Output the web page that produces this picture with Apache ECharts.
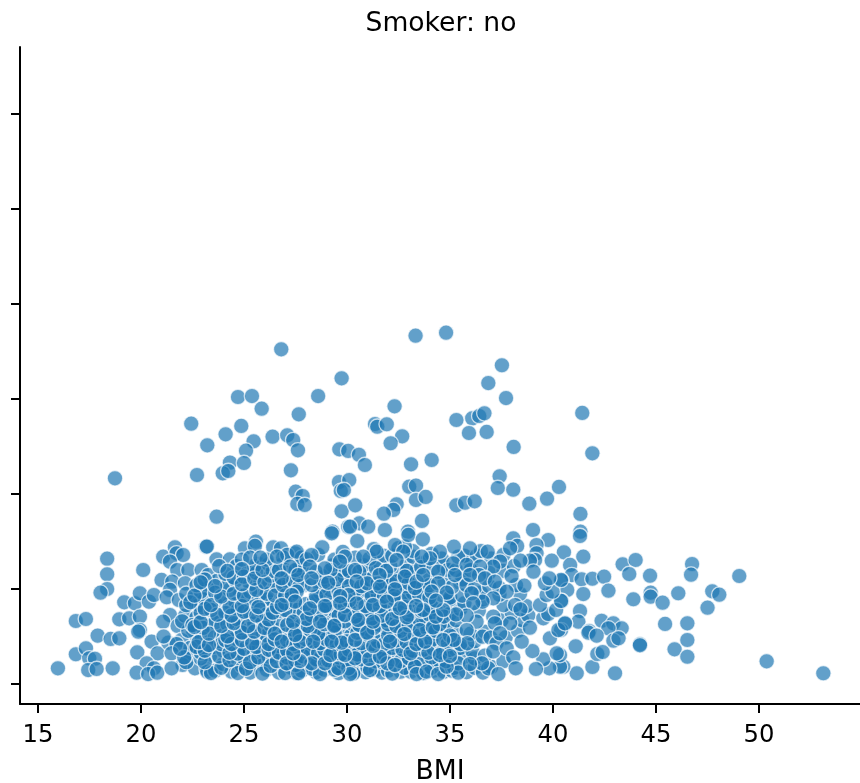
<!DOCTYPE html>
<html><head><meta charset="utf-8">
<style>html,body{margin:0;padding:0;background:#fff}#c{width:860px;height:783px}</style>
<script src="https://cdn.jsdelivr.net/npm/echarts@6/dist/echarts.min.js"></script>
</head><body><div id="c"></div>
<script>
const xTicks=[15,20,25,30,35,40,45,50];
const yTicks=[0,10000,20000,30000,40000,50000,60000];
const upperPoints=[[26.81,35230],[29.74,32180],[28.6,30310],[24.71,30210],[25.39,30310],[25.86,28980],[27.66,28390],[22.44,27400],[24.87,27160],[24.11,26280],[26.39,26030],[27.1,26180],[27.39,25680],[23.22,25120],[25.47,25550],[25.1,24560],[27.62,24600],[29.63,24700],[30.06,24530],[24.32,23300],[25,23260],[23.97,22180],[24.24,22420],[22.72,22000],[27.28,22490],[18.74,21650],[29.61,21260],[30.11,21470],[29.7,20320],[29.85,20420],[27.51,20240],[27.85,19790],[27.59,18950],[27.95,18840],[29.74,18180],[23.67,17610],[30.06,16560],[29.3,16030],[33.33,36660],[34.81,36980],[37.52,33550],[36.86,31680],[37.72,30100],[32.31,29230],[41.42,28530],[35.31,27790],[36.08,27960],[36.42,28210],[36.67,28490],[31.36,27370],[31.47,27080],[31.93,27340],[35.92,26420],[36.78,26530],[32.68,26070],[32.12,25340],[38.09,24950],[41.91,24280],[30.58,24130],[30.87,23050],[33.11,23120],[34.11,23580],[37.41,21860],[37.32,20630],[38.07,20450],[40.29,20740],[39.71,19510],[38.85,18980],[33.02,20770],[33.35,20880],[33.35,19370],[33.82,19690],[30.4,18810],[32.41,18920],[32.25,18320],[31.79,17930],[35.31,18810],[35.73,19080],[36.2,19230],[41.33,17900],[33.64,17160],[30.6,16910],[30.15,16560],[31.03,16560],[31.84,16210],[32.96,16030],[39.03,16210],[41.33,16030]];
const leftPoints=[[15.97,1650],[16.84,6630],[17.33,6840],[17.9,5090],[16.84,3130],[17.33,3760],[17.49,2700],[17.77,2660],[17.44,1470],[17.85,1580],[18.63,1650],[18.53,4740],[18.95,4810],[18.36,13190],[18.36,11550],[18.36,10000],[18.04,9610],[20.11,12000],[19.19,8600],[19.71,8490],[18.95,6810],[19.43,6910],[19.95,9550],[20.39,8670],[20.63,9370],[19.95,7090],[19.95,5680],[19.87,5510],[20.52,4460],[19.82,3330],[20.81,3230],[20.28,2180],[20.63,1650],[19.79,1190],[20.35,1050],[20.79,1190],[21.08,13400],[21.65,14390],[21.73,13760],[22.05,13580],[21.41,12880],[21.76,12000],[22.3,12000],[21,10950],[21.52,10770],[22.14,10600],[21.41,9900],[21.25,9130],[21.84,8840],[21.41,7260],[21.08,6560],[21.78,6110],[22.14,7190],[22.7,7020],[23.27,6210],[23.92,6910],[22.54,5330],[22.95,4810],[23.59,4910],[21.97,4630],[21.33,4350],[21.73,4210],[21.49,3230],[22.3,3230],[23.35,2950],[24.53,2450],[22.02,2000],[21.49,1650],[22.62,1650],[23.19,1550],[23.22,1300],[23.16,14450],[23.2,14470],[23.67,13120],[24.32,13120],[24.64,12420],[22.95,12000],[23.27,11470],[23.7,10870],[23.22,10070],[24.8,9370],[22.54,8840],[22.82,8310],[23.59,8560],[24.32,8560],[25.05,14280],[25.58,14980],[25.53,14530],[26.42,14390],[26.8,14280],[25.74,12630],[25.21,11820],[26.83,12530],[26.23,10420],[26.75,11230],[25.74,9260],[26.5,8670],[25.29,8310],[25.02,6560],[26.34,7090],[24.32,5580],[25.1,5330],[25.93,5510],[26.67,4460],[25.93,4210],[25.21,3580],[25.78,2100],[27.07,2100],[27.55,1160],[27.39,6420],[27.48,8670],[27.39,9580],[27.64,11300],[27.48,13760]];
const rightPoints=[[41.31,15580],[41.47,13400],[40.53,13860],[40.83,12530],[40.91,11470],[41.39,11020],[41.91,11080],[42.48,11300],[40.42,10870],[40.69,9900],[41.47,9470],[42.69,9820],[40.42,8740],[41.31,7680],[41.23,6560],[40.58,6320],[40.39,5680],[43.38,12600],[44.01,13050],[43.7,11580],[44.71,11400],[43.9,8920],[44.74,9610],[44.74,9190],[45.32,8560],[46.08,9550],[46.75,12630],[46.7,11510],[49.04,11370],[47.73,9760],[48.07,9400],[47.5,8030],[45.44,6320],[46.52,6390],[46.52,4630],[45.9,3650],[46.52,2870],[50.37,2390],[53.12,1130],[44.22,4180],[44.22,4070],[43.01,1130],[41.91,1790],[41.15,1130],[41.1,3970],[42.15,3160],[42.41,3370],[42.36,6660],[42.93,6390],[43.33,5860],[42.69,5860],[41.76,5580],[41.72,5400],[42.12,5090],[42.93,4560],[43.18,4810],[40.5,1820],[40.34,1820],[40.34,3050]];
const midPoints=[[39.82,1650],[39.53,2600],[39.17,1580],[40.18,3230],[39,3470],[38.48,4460],[39.85,4810],[38.88,5930],[40.26,5680],[40.58,6390],[39.53,6910],[39.77,7370],[40.15,7790],[39.37,8310],[40.39,8740],[39.69,9370],[39.98,9720],[39.61,10600],[40.39,10950],[39.82,11130],[39.94,12980],[39.77,15160],[39.2,14630],[39.2,13760],[39.13,13050],[38.88,12980],[39.05,11820],[38.07,15340],[38.26,14530],[37.92,14280],[38.42,12980],[37.43,12880],[37.1,12350],[36.83,13930],[35.97,14280],[35.19,14450],[34.51,13930],[34.03,13230],[33.63,13400],[32.81,14450],[32.98,15690],[32.33,14630],[33.68,15230],[32.73,13930],[32.41,13050],[31.44,13930],[30.79,13400],[29.9,13400],[29.66,12880],[28.8,14390],[29.26,15860],[30.5,15050],[27.56,13930],[28.04,13120],[28.28,13580],[28.2,12350],[28.93,12180],[27.24,12350],[26.83,11130],[27.64,11470],[28.28,11130],[29.09,10660],[27.56,9720],[27.32,9370],[30.07,9370],[29.67,9260],[30.39,12000],[30.98,10600],[30.47,10770],[31.58,11470],[32.33,9970],[32.81,11300],[33.38,10770],[33.7,11470],[34.43,11820],[34.43,10600],[34.11,9720],[34.84,9610],[35.16,12700],[35.24,11470],[35.81,12530],[36.46,12350],[36.41,11470],[36.7,11130],[35.97,11470],[37.18,10770],[37.99,11370],[38.61,10350],[37.75,9720],[37.1,9020],[36.58,8670],[36.05,9550],[36.13,8490],[38.16,8310],[38.42,7860],[37.92,6390],[37.1,7090],[37.18,6390],[36.29,6560],[35.81,7190],[35.29,7330],[35.81,5680],[35.84,4280],[35.19,4630],[36.58,4980],[36.97,4880],[37.26,4280],[37.43,5330],[37.1,3420],[37.75,3760],[38.07,2810],[38.19,1650],[36.86,1650],[37.35,1050],[36.55,2180],[35.4,2180],[35.4,1190],[35.97,2100],[27.64,1130],[28.69,1050],[30.07,1650],[30.15,1050],[29.58,1650],[31.12,1470],[31.96,2180],[32.33,2000],[33.3,1820],[33.38,1050],[33.86,1300],[34.43,1050],[34.84,1820],[28.28,2180],[28.93,2180],[27.72,2420],[27.07,2180],[30.39,2700],[31.08,2630],[33.09,3230],[33.95,3300],[34.51,3050],[35,2950],[29.2,3050],[29.9,3050],[31.6,2870],[27.39,3230],[31.27,4000],[32.09,4460],[29.74,4350],[29.25,4460],[27.72,4460],[27.48,5160],[26.83,4460],[28.36,4460],[30.39,4630],[33.37,4200],[33.79,4460],[34.67,4630],[30.98,5400],[29.38,6110],[32.79,5260],[33.54,5680],[34.17,5950],[28.04,6840],[27.39,6560],[28.69,6560],[29.9,7260],[30.55,6740],[31.27,6560],[32.2,6840],[32.9,7020],[34.32,7090],[34.67,7790],[33.7,7790],[33.35,8210],[32.57,7960],[28.93,8210],[28.2,7960],[27.48,8670],[26.83,8310],[29.67,8490],[30.47,8490],[31.27,8310],[31.93,8670],[34.32,8770],[31.6,10240]];
const denseLow=[[22.2,2300],[22.9,2700],[23.6,1400],[24,2100],[24.4,1300],[24.9,1900],[25.3,1200],[25.5,2600],[26.1,1500],[26.4,2900],[26.7,1200],[27.3,1700],[27.8,1400],[28.1,2000],[28.5,1250],[28.9,1500],[29.2,1900],[29.6,1150],[30.4,1400],[30.7,2100],[30.9,1250],[31.4,1500],[31.7,1200],[32,1400],[32.6,1300],[32.9,2200],[33.1,1300],[33.6,1500],[34,2000],[34.2,1400],[34.7,1300],[35.1,1400],[22.4,3800],[22.9,3300],[23.5,3900],[24,3500],[24.6,3900],[24.9,2900],[25.5,3300],[25.9,3500],[26.2,2900],[26.5,3700],[26.9,3100],[27.2,3800],[27.7,3500],[28,3100],[28.3,3700],[28.7,2900],[29,3900],[29.5,3600],[29.9,3900],[30.2,3300],[30.6,3700],[30.9,3100],[31.3,3000],[31.6,3800],[31.9,3300],[32.4,3500],[32.7,3000],[33,3900],[33.5,3000],[34,4000],[34.3,3300],[34.8,3700],[35.2,3200],[21.1,5000],[22.3,5600],[23,5900],[23.9,5200],[24.5,4700],[24.8,5900],[25.6,4800],[26.1,5100],[26.6,5700],[27,5300],[27.9,5500],[28.4,5100],[28.8,5600],[29.1,5000],[29.8,5400],[30.2,5100],[30.7,5700],[31.1,4700],[31.5,5300],[31.9,5800],[32.3,5300],[32.6,4800],[33.1,5400],[33.6,4900],[34,5400],[34.5,5100],[34.9,5600],[35.3,5500],[22,6600],[22.5,6200],[23.6,6500],[24.2,6300],[24.7,6800],[25.5,6300],[25.9,6700],[26.3,6200],[26.8,6700],[27.8,6200],[28.3,6500],[29.2,6800],[29.6,6400],[30.3,6300],[30.9,6500],[31.6,6200],[31.9,6700],[32.6,6300],[33.2,6600],[33.7,6300],[34.2,6700],[34.9,6500],[22.9,7500],[23.4,7800],[24.1,7500],[24.7,7800],[25.3,7400],[25.8,7800],[26.1,7300],[26.7,7700],[27.2,7400],[27.6,7800],[28.5,7400],[29,7100],[29.4,7700],[30.1,7800],[30.8,7500],[31.4,7300],[31.9,7700],[32.3,7400],[33.2,7600],[33.8,7100],[34.3,7900],[35,7400]];
const denseHigh=[[22.2,8300],[23.1,8900],[24,9000],[24.6,8400],[25,8900],[25.5,8600],[26.1,8900],[26.3,8300],[26.9,9000],[28.6,8900],[29.1,8600],[29.5,8300],[30.2,8200],[30.8,8900],[31.5,8900],[32.1,8200],[32.6,8700],[33.1,8800],[33.9,8500],[34.9,8400],[22.2,9500],[22.9,9700],[23.6,9600],[24.3,9900],[25.3,9700],[26.1,9500],[26.9,9700],[28.7,9600],[29.2,9900],[30.5,9500],[31,9800],[31.5,9500],[32,9900],[32.7,9400],[33.2,9600],[33.8,9900],[34.6,9300],[22.7,10400],[23.1,11000],[24.2,10400],[24.6,10900],[25.3,10500],[25.8,10800],[26.6,10300],[27.2,10600],[27.9,10400],[28.7,10200],[29.5,10300],[29.9,10800],[31.3,10300],[31.8,10800],[32.1,10500],[32.8,10300],[33.7,10200],[34.7,10900],[35.5,10600],[24.1,11600],[24.5,11200],[25,11300],[25.6,11700],[26.3,11400],[27.1,11700],[27.9,11700],[28.9,11300],[29.4,11600],[29.9,11200],[30.8,11500],[31.2,11900],[32.1,11200],[32.6,11800],[33.1,11300],[34,11000],[35.6,11000],[23.8,12400],[24.2,11900],[25.5,12400],[26.2,12600],[26.4,11900],[27.7,12500],[29.3,12500],[29.8,12000],[30.8,12500],[31.6,12700],[32.1,12400],[32.9,12600],[33.4,12100],[33.8,12800],[34.7,12400],[36,12800],[24.9,13100],[25.3,13300],[26.1,13100],[26.9,13300],[27.1,13600],[29.4,13100],[30.4,13300],[31.1,13200],[31.8,13500],[32.2,13500],[33.2,13400],[34.6,13200],[35.7,13500],[36.3,13500],[37,13200]];
const denseExtra=[[23.4,1150],[23.9,1700],[24.7,1150],[25.1,1600],[25.9,1100],[26.3,1900],[27,1150],[27.5,2000],[28.3,1600],[28.6,2400],[29.4,1500],[29.8,2300],[30.3,1100],[31,1700],[31.5,2300],[32.2,1100],[32.8,1700],[33.2,2300],[33.7,1150],[34.1,1700],[34.5,2400],[35.2,1700],[35.8,1250],[36.2,1700],[36.6,1200],[37,1800],[22.1,2800],[23.1,2300],[23.8,2900],[24.3,2500],[24.7,3200],[25.3,2300],[25.7,2800],[26.6,2400],[27.1,2800],[27.5,2500],[27.9,2900],[28.5,2600],[29.1,2500],[29.6,2800],[30,2400],[30.7,2600],[31.4,2400],[31.9,2800],[32.2,2600],[32.6,2400],[33,2700],[33.6,2500],[34.1,2800],[34.8,2400],[35.7,2900],[36.2,2700],[37.6,2400],[21.9,3700],[22.7,3900],[23.1,3500],[23.9,4200],[24.3,3300],[25,3700],[25.6,3900],[26.2,3600],[26.7,3300],[27.1,3500],[27.6,3900],[28.1,3600],[28.6,3300],[28.9,3600],[29.3,3300],[29.7,3100],[30.1,3600],[30.5,3100],[31,3500],[31.4,3700],[31.8,3100],[32.2,3800],[32.7,3600],[33.2,3500],[33.7,3600],[34.2,3700],[34.6,3300],[35,3600],[35.5,3800],[36.1,3400],[36.7,3000],[22.8,4400],[23.3,4100],[24.1,4600],[24.4,4200],[24.9,4600],[25.4,4300],[26.2,4200],[26.5,4700],[27.1,4600],[27.4,4200],[28,4700],[28.7,4300],[29,4700],[29.5,4200],[30,4500],[30.7,4300],[31.5,4500],[31.8,4200],[32.4,4600],[32.9,4400],[33.6,4200],[34.1,4600],[34.9,4300],[35.5,4200],[36.2,4500],[37.7,4900],[22.6,6000],[23.3,5300],[24.2,5000],[24.9,5400],[25.5,5500],[26,5900],[26.5,5300],[27.4,5700],[27.7,5200],[28.2,5700],[28.6,5300],[29.4,5400],[30.5,5400],[31,5200],[31.3,5900],[32,5100],[32.6,5600],[33.3,5100],[33.9,5800],[34.3,5600],[35,5100],[36,5300],[36.7,5500],[38.3,5600],[22.9,6500],[23.9,6100],[24.5,6400],[25.2,6100],[26.2,6800],[27.1,6200],[28.1,6100],[28.9,6300],[29.4,6200],[29.9,6600],[30.6,6200],[31.2,6900],[32,6300],[32.4,6100],[33,6200],[33.5,6800],[34.5,6300],[35.3,6700],[37.5,6700],[38.5,6700],[23.1,7900],[23.7,7300],[24.4,7200],[25,7600],[25.6,7200],[26.4,7500],[27,7800],[27.9,7500],[28.3,7200],[28.8,7800],[29.6,7200],[30.4,7100],[31,7800],[31.7,7200],[32.5,7600],[33,7300],[33.6,7700],[34,7300],[34.7,7100],[35.5,7900],[36.4,7700],[38,7500],[38.8,7200],[22.4,8600],[23.4,8300],[24.3,8100],[24.9,8200],[25.7,8100],[26.6,8100],[27,8500],[28,8400],[28.4,8700],[29,8200],[29.9,8200],[30.1,8800],[30.9,8200],[31.6,8200],[32.3,8900],[32.8,8100],[33.6,8800],[34.1,8200],[35,8900],[35.7,8500],[36.6,8900],[37.6,8300],[38.7,8200],[22.6,9300],[23.9,9200],[24.5,9500],[25,9300],[25.6,9900],[26.5,9300],[27,9300],[28.5,9200],[29,9400],[29.6,9700],[30.5,10000],[31.2,9300],[31.8,9200],[32.3,9300],[33,9200],[33.5,9400],[34,9100],[35,9100],[35.6,9300],[36.5,9600],[37.4,9400],[38.4,9500],[22.9,10700],[23.6,10300],[24.9,10500],[25.5,11100],[26,10700],[26.9,10400],[27.4,10900],[27.7,10300],[28.3,10400],[28.9,10800],[29.5,11000],[30.1,10300],[30.7,10300],[31.1,11000],[31.5,10600],[32.4,10800],[33,10600],[33.3,10100],[34,10400],[35.1,10200],[35.8,10400],[36.2,10100],[36.9,10300],[37.4,10100],[38.2,10400],[24.9,12100],[25.9,12000],[26.7,12000],[27.5,12000],[28.5,11800],[29.2,12000],[30.1,11900],[30.6,11800],[31.4,12200],[31.9,11900],[32.9,11900],[33.6,12300],[34.2,12200],[34.9,12000],[35.3,12000],[36,12000],[36.9,11700],[37.6,11900],[38.1,12400],[25.8,13300],[26.6,13400],[27.8,13300],[28.6,13600],[29.8,13900],[31.3,14200],[32.5,14300],[33.2,14000],[34.1,13700],[35.4,13400],[36.5,14000],[37.6,13600]];
const points=[...upperPoints,...leftPoints,...rightPoints,...denseHigh,...denseLow,...denseExtra,...midPoints];
const chart=echarts.init(document.getElementById('c'),null,{renderer:'canvas'});
const font='"DejaVu Sans"';
chart.setOption({
  animation:false,
  title:{text:'Smoker: no',left:436,top:6,textAlign:'center',textStyle:{fontFamily:font,fontSize:26.6,fontWeight:'normal',color:'#000'}},
  grid:{left:20,right:0,top:47,bottom:79,containLabel:false,outerBoundsMode:'none'},
  xAxis:{type:'value',min:14.13,max:54.9,splitLine:{show:false},
    name:'BMI',nameLocation:'middle',nameGap:55,nameTextStyle:{fontFamily:font,fontSize:26.6,color:'#000'},
    axisLine:{show:true,onZero:false,lineStyle:{color:'#000',width:2}},
    axisTick:{show:true,length:9,lineStyle:{color:'#000',width:2},customValues:xTicks},
    axisLabel:{fontFamily:font,fontSize:24.3,color:'#000',margin:20,customValues:xTicks,formatter:v=>String(v)}},
  yAxis:{type:'value',min:-2105,max:67050,splitLine:{show:false},
    axisLine:{show:true,onZero:false,lineStyle:{color:'#000',width:2}},
    axisTick:{show:true,length:9,lineStyle:{color:'#000',width:2},customValues:yTicks},
    axisLabel:{show:false}},
  series:[{type:'scatter',data:points,symbolSize:15.5,large:false,silent:true,
    itemStyle:{color:'#1f77b4',opacity:0.7,borderColor:'#ffffff',borderWidth:1.3}}]
});
</script></body></html>
